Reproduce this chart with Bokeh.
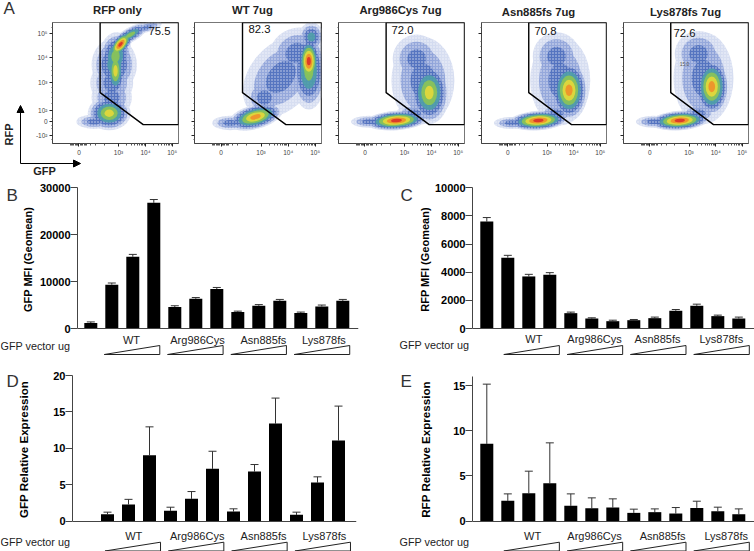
from math import pi
from bokeh.embed import file_html
from bokeh.layouts import column, row
from bokeh.models import Arrow, FixedTicker, Label, LinearAxis, NormalHead, Range1d, TeeHead, Whisker, ColumnDataSource
from bokeh.plotting import figure
from bokeh.core.properties import value
from bokeh.resources import INLINE

FONT = "Liberation Sans"
# ---- flow panels (positions in % of the plot frame)
flow_titles = ["RFP only", "WT 7ug", "Arg986Cys 7ug", "Asn885fs 7ug", "Lys878fs 7ug"]
flow_pct = ["75.5", "82.3", "72.0", "70.8", "72.6"]
gate_x = [37.8, 100, 100, 72, 37.8]
gate_y = [100, 100, 15.6, 15.6, 42]
x_tick_pos = [21, 52.4, 73.8, 95]
x_tick_txt = ["0", "10³", "10⁴", "10⁵"]
y_tick_pos = [7, 18, 27, 50.4, 71, 91]
y_tick_txt = ["-10²", "0", "10²", "10³", "10⁴", "10⁵"]

blob_x_1 = [45, 33, 47, 47, 49, 50, 50, 54, 62, 75]
blob_y_1 = [25, 18, 38, 50, 65, 72, 60, 82, 90, 96]
blob_rx_1 = [17, 14, 16, 17, 18, 13, 8, 14, 16, 12]
blob_ry_1 = [14, 6, 16, 18, 22, 20, 22, 7, 6, 4]
blob_ang_1 = [0, 0, 0, 0, 0, -5, 0, 50, 30, 15]
blob_peak_1 = [6, 3, 3, 3, 4, 5, 6, 8, 5, 3]

blob_x_2 = [48, 28, 68, 55, 80, 90, 90, 92]
blob_y_2 = [22, 17, 55, 38, 75, 60, 68, 88]
blob_rx_2 = [22, 14, 36, 15, 22, 14, 9, 10]
blob_ry_2 = [10, 6, 26, 15, 20, 32, 20, 12]
blob_ang_2 = [15, 0, 50, 0, 30, 0, 0, 0]
blob_peak_2 = [7, 3, 3, 3, 3, 5, 8, 4]

blob_x_3 = [46, 24, 60, 72, 67, 62]
blob_y_3 = [19, 18, 25, 42, 52, 70]
blob_rx_3 = [25, 14, 14, 16, 25, 19]
blob_ry_3 = [8, 5, 8, 26, 36, 20]
blob_ang_3 = [4, 0, 0, 0, 0, 0]
blob_peak_3 = [8, 3, 3, 6, 3, 3]

blob_x_4 = [45.5, 24, 60, 70, 63, 60]
blob_y_4 = [19, 17, 25, 44, 52, 72]
blob_rx_4 = [24, 14, 14, 15, 24, 19]
blob_ry_4 = [8, 5, 8, 25, 37, 20]
blob_ang_4 = [4, 0, 0, 0, 0, 0]
blob_peak_4 = [8, 3, 3, 7, 3, 3]

blob_x_5 = [45, 24, 60, 70.6, 64, 60]
blob_y_5 = [19, 18, 25, 47, 54, 74]
blob_rx_5 = [24, 14, 14, 14, 24, 19]
blob_ry_5 = [8, 5, 8, 24, 38, 19]
blob_ang_5 = [4, 0, 0, 0, 0, 0]
blob_peak_5 = [8, 3, 3, 7, 3, 3]

level_colors = ["#d3daf0", "#8ea2d8", "#4f6fbc", "#4f9fa8", "#8cc455", "#e6d83a", "#ef8f2a", "#d9302a"]

# ---- bar panels
gfp_mfi = [1150, 9350, 15300, 26800, 4560, 6340, 8400, 3500, 4850, 5900, 3280, 4700, 5900]
gfp_mfi_top = [1400, 9700, 15800, 27500, 4850, 6600, 8750, 3700, 5100, 6200, 3500, 5000, 6200]
rfp_mfi = [7600, 5035, 3700, 3820, 1090, 710, 520, 590, 735, 1260, 1615, 880, 710]
rfp_mfi_top = [7885, 5200, 3850, 3970, 1165, 760, 590, 640, 810, 1350, 1730, 950, 810]
gfp_rel = [0.96, 2.3, 9.06, 1.42, 3.07, 7.19, 1.33, 6.82, 13.4, 0.87, 5.3, 11.08]
gfp_rel_top = [1.24, 3.0, 12.95, 1.92, 4.07, 9.6, 1.7, 7.78, 16.9, 1.24, 6.09, 15.8]
rfp_rel = [8.55, 2.25, 3.1, 4.2, 1.7, 1.44, 1.51, 0.92, 1.0, 0.85, 1.47, 1.1, 0.77]
rfp_rel_top = [15.15, 3.02, 5.53, 8.66, 3.02, 2.58, 2.47, 1.33, 1.36, 1.51, 2.21, 1.55, 1.36]
groups = ["WT", "Arg986Cys", "Asn885fs", "Lys878fs"]

# transparent sheet over the whole page, in page pixels, for the texts outside the plot frames
sheet = figure(width=754, height=551, output_backend="svg", toolbar_location=None,
               x_range=Range1d(0, 754), y_range=Range1d(551, 0), x_axis_type=None, y_axis_type=None,
               min_border=0, outline_line_color=None, background_fill_alpha=0, border_fill_alpha=0,
               styles={"position": "absolute", "left": "0px", "top": "0px"})
sheet.grid.visible = False


def lab(x, y, text, size=11, bold=False, angle=0, align="center", color="black"):
    sheet.add_layout(Label(x=x, y=y, text=text, text_font=FONT, text_font_size=f"{size}px",
                           text_font_style="bold" if bold else "normal",
                           text_align=align, text_baseline="middle", angle=angle, text_color=color))


def flow(i, tile_l, tile_r, fl, fr, ft, fb, tcx, ty, pcx, pcy, blobs):
    p = figure(width=tile_r - tile_l, height=175, output_backend="svg", toolbar_location=None,
               x_range=Range1d(0, 100), y_range=Range1d(0, 100),
               x_axis_type=None, y_axis_type=None,
               min_border_left=fl - tile_l, min_border_right=tile_r - fr,
               min_border_top=ft, min_border_bottom=175 - fb, background_fill_color="white",
               outline_line_color="#777777", outline_line_width=1)
    p.grid.visible = False
    bx, by, brx, bry, bang, bpeak = blobs
    for lev in range(8):
        xs, ys, ws, hs, an = [], [], [], [], []
        for x, y, rx, ry, a, pk in zip(bx, by, brx, bry, bang, bpeak):
            if lev < pk:
                s = (1 - lev / pk) ** 0.85
                xs.append(x); ys.append(y); ws.append(2 * rx * s); hs.append(2 * ry * s); an.append(a)
        if xs:
            speck = dict(hatch_pattern="dot", hatch_color="white", hatch_scale=3, hatch_alpha=0.7, hatch_weight=0.6) if lev < 3 else {}
            p.ellipse(x=xs, y=ys, width=ws, height=hs, angle=an, angle_units="deg",
                      fill_color=level_colors[lev], fill_alpha=0.9, line_color=None, **speck)
    p.patch(gate_x, gate_y, fill_color=None, line_color="black", line_width=1.4)
    minor = sorted(t + 21.4 * m for t in x_tick_pos[1:] for m in [.3, .48, .6, .7, .78, .85, .9, .95]
                   if t + 21.4 * m < 100) + [14, 15, 16, 17, 18, 19, 20, 22, 23, 24, 25, 26, 27, 30, 34, 41]
    xa = LinearAxis(ticker=FixedTicker(ticks=x_tick_pos, minor_ticks=minor),
                    major_label_overrides=dict(zip(x_tick_pos, x_tick_txt)),
                    major_label_text_font_size="6.5px", major_label_text_color="#444444",
                    major_label_text_font=FONT, major_label_standoff=2,
                    major_tick_out=3, major_tick_in=0, minor_tick_out=2, minor_tick_in=0,
                    axis_line_color="#444444", major_tick_line_color="#222222", minor_tick_line_color="#555555")
    p.add_layout(xa, "below")
    ya = LinearAxis(ticker=FixedTicker(ticks=y_tick_pos, minor_ticks=[3, 12, 15, 21, 33, 38, 42, 46, 56, 60, 64, 76, 80, 84, 96]),
                    major_label_overrides=dict(zip(y_tick_pos, y_tick_txt if i == 0 else [""] * 6)),
                    major_label_text_font_size="6.5px", major_label_text_color="#444444",
                    major_label_text_font=FONT, major_label_standoff=2,
                    major_tick_out=3, major_tick_in=0, minor_tick_out=1, minor_tick_in=0,
                    axis_line_color="#444444", major_tick_line_color="#222222", minor_tick_line_color="#555555")
    p.add_layout(ya, "left")
    lab(tcx, ty, flow_titles[i], size=11.3, bold=True, color="#222222")
    lab(pcx, pcy, flow_pct[i], size=11.3, color="#111111")
    return p


def bars(tile_l, tile_r, tile_h, tile_t, axis_px, end_px, ft, fb, zero_px, ref_px, ref_val, y_top_val,
         slot0_px, first_slot, vals, tops, ticks, letter, ylabel, ylx, yly, ylsize,
         tri_start, glabel_slots, text_y, vec_x, vec_y, tri_top, tri_bot):
    sl = 21.0
    upp = ref_val / (zero_px - ref_px)
    xr = Range1d((axis_px - slot0_px) / sl, (end_px - slot0_px) / sl)
    yr = Range1d(-(fb - zero_px) * upp, (zero_px - ft) * upp)
    p = figure(width=tile_r - tile_l, height=tile_h, output_backend="svg", toolbar_location=None,
               x_range=xr, y_range=yr, x_axis_type=None, y_axis_type=None,
               min_border_left=axis_px - tile_l, min_border_right=tile_r - end_px,
               min_border_top=ft - tile_t, min_border_bottom=tile_t + tile_h - fb,
               outline_line_color=None)
    p.grid.visible = False
    p.extra_y_ranges = {"px": Range1d(fb, ft)}
    xs = [first_slot + k for k in range(len(vals))]
    p.vbar(x=xs, top=vals, bottom=0, width=13 / sl, fill_color="black", line_color="black", line_width=0)
    src = ColumnDataSource(dict(x=xs, lo=vals, hi=tops))
    p.add_layout(Whisker(source=src, base="x", lower="lo", upper="hi", line_color="#333333", line_width=1,
                         upper_head=TeeHead(size=8, line_color="#333333", line_width=1), lower_head=None))
    ya = LinearAxis(bounds=(0, y_top_val), ticker=FixedTicker(ticks=ticks), major_label_text_font=FONT,
                    major_label_text_font_size="11px", major_label_text_font_style="bold",
                    major_label_text_color="black", major_label_standoff=0,
                    major_tick_out=7, major_tick_in=0, minor_tick_out=0, minor_tick_in=0,
                    axis_line_color="#444444", major_tick_line_color="#444444")
    p.add_layout(ya, "left")
    xa = LinearAxis(fixed_location=0, ticker=FixedTicker(ticks=[]), major_label_text_font_size="0px",
                    major_tick_out=0, major_tick_in=0, minor_tick_out=0, minor_tick_in=0,
                    axis_line_color="#444444")
    p.add_layout(xa, "below")
    for g in range(4):
        a = tri_start + 3.015 * g
        b = a + 2.645
        p.patch([a, b, b], [tri_bot, tri_bot, tri_top], fill_color="white", line_color="#222222",
                line_width=1, y_range_name="px")
    p.text(x=glabel_slots, y=[text_y] * 4, text=groups, text_align="center", text_baseline="middle",
           text_font=value(FONT), text_font_size="11px", text_color="#222222", y_range_name="px")
    lab(vec_x, vec_y, "GFP vector ug", size=10.8, align="left", color="#222222")
    lab(letter[1], letter[2], letter[0], size=17, align="left", color="#333333")
    lab(ylx, yly, ylabel, size=ylsize, bold=True, angle=pi / 2)
    return p


for xs, ys, xe, ye in [(20, 163, 20, 105), (20, 163, 80, 163)]:
    sheet.add_layout(Arrow(x_start=xs, y_start=ys, x_end=xe, y_end=ye, line_color="black", line_width=1,
                           end=NormalHead(size=7, fill_color="black", line_color="black")))
lab(8, 134, "RFP", size=11, bold=True, angle=pi / 2, color="#222222")
lab(44, 170, "GFP", size=11, bold=True, color="#222222")
lab(3, 8, "A", size=17, align="left", color="#333333")
lab(684, 63, "15.0", size=5, color="#555555")

b1 = (blob_x_1, blob_y_1, blob_rx_1, blob_ry_1, blob_ang_1, blob_peak_1)
b2 = (blob_x_2, blob_y_2, blob_rx_2, blob_ry_2, blob_ang_2, blob_peak_2)
b3 = (blob_x_3, blob_y_3, blob_rx_3, blob_ry_3, blob_ang_3, blob_peak_3)
b4 = (blob_x_4, blob_y_4, blob_rx_4, blob_ry_4, blob_ang_4, blob_peak_4)
b5 = (blob_x_5, blob_y_5, blob_rx_5, blob_ry_5, blob_ang_5, blob_peak_5)

top = row(
    flow(0, 0, 186, 52, 178, 18, 143, 117, 9, 159, 30, b1),
    flow(1, 186, 330, 194, 321, 19, 145, 252, 9, 259, 28, b2),
    flow(2, 330, 473, 338, 464, 21, 146, 400, 9, 402, 29, b3),
    flow(3, 473, 615, 481, 606, 22, 147, 538, 11, 545, 30, b4),
    flow(4, 615, 754, 623, 748, 22, 147, 685, 11, 684, 32, b5),
    spacing=0)

pB = bars(0, 400, 185, 175, 77, 358, 180, 360, 328, 187.3, 30000, 30000, 90.3, 0,
          gfp_mfi, gfp_mfi_top, [0, 10000, 20000, 30000], ("B", 6, 195), "GFP MFI (Geomean)", 27, 259, 11,
          0.64, [1.94, 5.08, 8.22, 11.1], 339, 0, 345, 345, 354)
pC = bars(400, 754, 185, 175, 472, 754, 180, 360, 328, 187.3, 10000, 10000, 486.3, 0,
          rfp_mfi, rfp_mfi_top, [0, 2000, 4000, 6000, 8000, 10000], ("C", 400, 195), "RFP MFI (Geomean)", 424, 259, 11,
          0.81, [2.24, 5.13, 8.13, 11.17], 338, 399, 344, 345, 354)
pD = bars(0, 400, 191, 360, 72, 356, 366, 551, 520.7, 375, 20, 20, 86, 1,
          gfp_rel, gfp_rel_top, [0, 5, 10, 15, 20], ("D", 6, 381), "GFP Relative Expression", 23, 449, 11.6,
          0.88, [2.25, 5.27, 8.43, 11.33], 535.7, 0, 541.7, 541.7, 550.5)
pE = bars(400, 754, 191, 360, 472, 754, 366, 551, 520.7, 385, 15, 16, 486.3, 0,
          rfp_rel, rfp_rel_top, [0, 5, 10, 15], ("E", 400, 381), "RFP Relative Expression", 425, 449, 11.6,
          0.81, [2.18, 5.13, 8.37, 11.4], 535.7, 399, 541.7, 541.7, 550.5)

root = column(top, row(pB, pC, spacing=0), row(pD, pE, spacing=0), spacing=0,
              styles={"position": "absolute", "left": "0px", "top": "0px"})
open("out.html", "w").write(file_html([root, sheet], INLINE))
